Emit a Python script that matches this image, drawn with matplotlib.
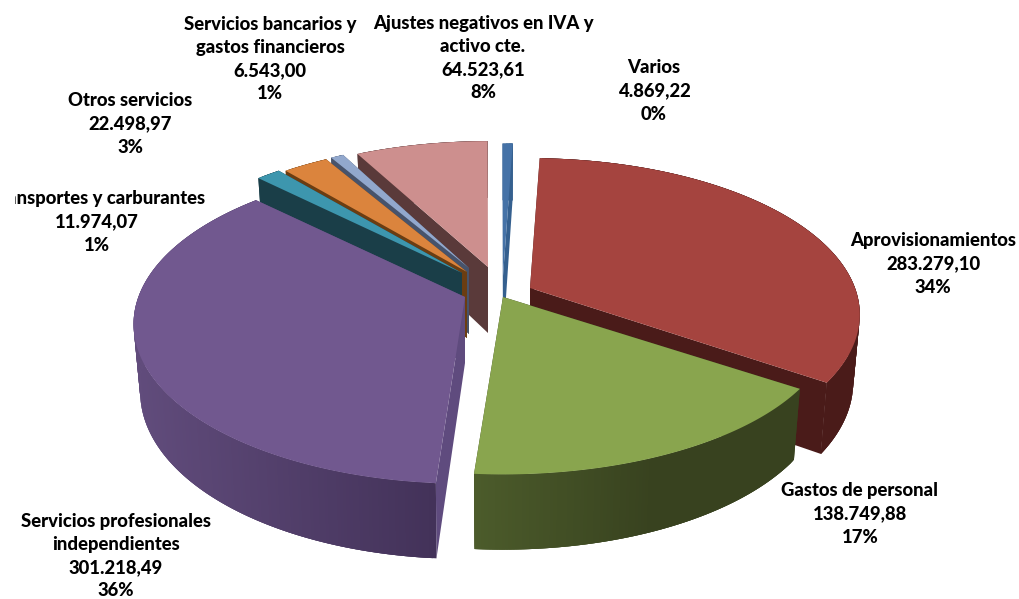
import numpy as np
import matplotlib
matplotlib.use('Agg')
import matplotlib.pyplot as plt
from matplotlib.collections import PolyCollection
from matplotlib.transforms import Bbox, TransformedBbox

# gastos, in the order they go round the pie (clockwise)
names = ['Aprovisionamientos', 'Gastos de personal', 'Servicios profesionales\nindependientes',
         'Transportes y carburantes', 'Otros servicios', 'Servicios bancarios y\ngastos financieros',
         'Ajustes negativos en IVA y\nactivo cte.', 'Varios']
values = [283279.10, 138749.88, 301218.49, 11974.07, 22498.97, 6543.00, 64523.61, 4869.22]
pcts = [34, 17, 36, 1, 3, 1, 8, 0]

top_colors = ['#a5443f', '#89a54e', '#71588f', '#3d96ae', '#db843d', '#92a8cd', '#cd8f8e', '#4572a7']
rim_left = ['#4a1b19', '#4c5c2b', '#614c7c', '#1a3e48', '#6b3d12', '#47536b', '#5a3a3a', '#35608f']
rim_right = ['#4a1b19', '#38421f', '#433259', '#1a3e48', '#6b3d12', '#47536b', '#5a3a3a', '#35608f']
cut_colors = ['#4a1b19', '#39431f', '#5f4b7e', '#1a3e48', '#6b3d12', '#47536b', '#5a3a3a', '#35608f']

# where each exploded slice has its tip, and its size
tips = [(530, 288), (503, 297), (465, 297), (462, 273), (467, 272), (469, 268), (488, 267), (503, 276)]
scale_x = [1.0, 1.0, 1.005, 0.98, 0.97, 0.95, 0.985, 1.0]
scale_y = [0.98, 0.95, 1.0, 0.98, 0.97, 0.95, 0.95, 1.0]
draw_order = [7, 6, 5, 4, 3, 0, 2, 1]

label_pos = [(933, 264), (860, 514), (116, 556), (97, 222), (130, 124), (270, 59), (483, 58), (654, 91)]

start_angle = 2
RX, RY, PERSP, DEPTH = 325, 155, 0.17, 66


def project(i, r, ang, low=False):
    u = r * np.sin(np.radians(ang))
    v = -r * np.cos(np.radians(ang))
    s = 1 / (1 - PERSP * v)
    x = RX * scale_x[i] * u * s
    y = RY * scale_y[i] * v * s
    if low:
        x = x * 0.98
        y = y + DEPTH * (1 + 0.14 * v)
    return np.column_stack([tips[i][0] + x, tips[i][1] + y])


def mix(c1, c2, t):
    a = np.array(matplotlib.colors.to_rgb(c1))
    b = np.array(matplotlib.colors.to_rgb(c2))
    return a + (b - a) * t


fig = plt.figure(figsize=(10.19, 5.99), dpi=100)
ax = fig.add_axes([0, 0, 1, 1])
ax.set_xlim(0, 1019)
ax.set_ylim(599, 0)
ax.axis('off')

total = sum(values)
edges = start_angle + np.cumsum([0] + values) / total * 360

for i in draw_order:
    a0, a1 = edges[i], edges[i + 1]
    angs = np.linspace(a0, a1, max(int(a1 - a0) * 2, 4))

    # cut faces
    for a in (a0, a1):
        q = [project(i, 0, a)[0], project(i, 1, a)[0], project(i, 1, a, True)[0], project(i, 0, a, True)[0]]
        ax.add_collection(PolyCollection([q], facecolors=cut_colors[i], edgecolors='none'))

    # outer wall, strips overlap so no seams show
    up = project(i, 1, angs)
    down = project(i, 1, angs, True)
    x0, x1 = up[:, 0].min(), up[:, 0].max()
    strips = []
    cols = []
    for k in range(len(angs) - 1):
        e = min(k + 3, len(angs) - 1)
        strips.append([up[k], up[e], down[e], down[k]])
        t = (up[k][0] - x0) / (x1 - x0)
        # green goes dark early, then stays dark
        if i == 1:
            t = min(1, t * 1.8)
        cols.append(mix(rim_left[i], rim_right[i], t))
    ax.add_collection(PolyCollection(strips, facecolors=cols, edgecolors='none'))

    # top face
    top = np.vstack([[tips[i]], up])
    ax.add_collection(PolyCollection([top], facecolors=top_colors[i], edgecolors='none'))

for i in range(len(names)):
    val = f'{values[i]:,.2f}'.replace(',', 'X').replace('.', ',').replace('X', '.')
    t = ax.text(label_pos[i][0], label_pos[i][1], f'{names[i]}\n{val}\n{pcts[i]}%', ha='center', va='center',
                family='Lato', fontweight='black', fontsize=13.3, color='black', linespacing=1.45)
    # the left label is cut off in the source picture
    t.set_clip_box(TransformedBbox(Bbox([[15, 0], [1019, 599]]), ax.transData))
    t.set_clip_on(True)

fig.savefig('out.png', dpi=100)
